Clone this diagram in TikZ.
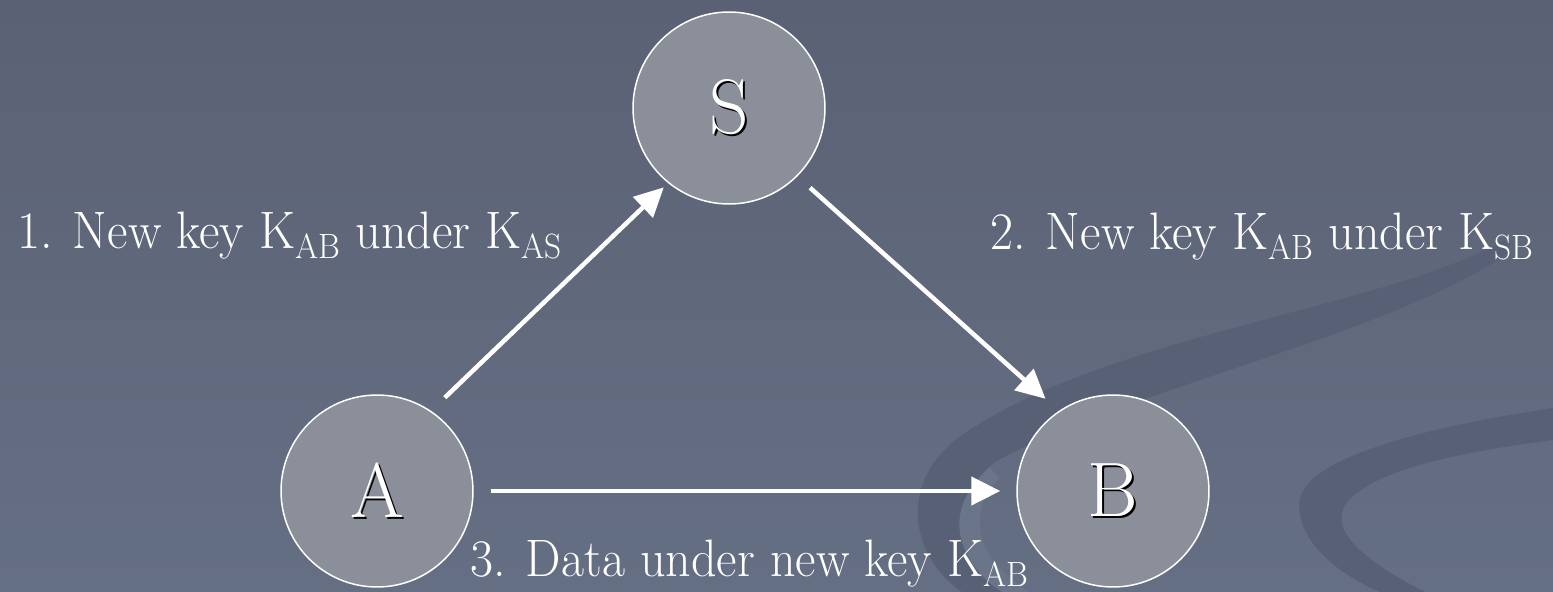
\documentclass[tikz,border=0pt]{standalone}
\usepackage{fontspec}
\usetikzlibrary{arrows.meta}

\newfontfamily\slidefont{lmroman17-regular.otf}[FakeStretch=0.95]

\definecolor{slidetop}{HTML}{5B6175}
\definecolor{slidebot}{HTML}{656F83}
\definecolor{swoosh}{HTML}{586075}
\definecolor{swooshlight}{HTML}{6B7589}
\definecolor{partyfill}{HTML}{8A8F99}

\newcommand{\embossed}[1]{\rlap{\kern0.045cm\raisebox{-0.045cm}{\color{black}#1}}#1}
\newcommand{\keysub}[1]{\raisebox{-0.2cm}{\fontsize{20}{24}\selectfont #1}}

\tikzset{
    party/.style={circle, draw=white, line width=0.03cm, fill=partyfill,
        minimum size=3.84cm, inner sep=0pt, text=white,
        font=\fontsize{44}{50}\selectfont},
    lbl/.style={anchor=base west, inner sep=0pt, text=white,
        font=\slidefont\fontsize{30}{36}\selectfont},
    msg/.style={draw=white, line width=0.09cm,
        -{Triangle[length=0.58cm, width=0.56cm]}}
}

\begin{document}
\begin{tikzpicture}[x=0.02cm, y=-0.02cm]
    % slide background
    \shade[top color=slidetop, bottom color=slidebot] (0,0) rectangle (1553,592);
    \useasboundingbox (0,0) rectangle (1553,592);

    % template swooshes
    \fill[swoosh] (1505,240) .. controls (1380,310) and (1100,335) .. (955,440)
        .. controls (895,490) and (915,560) .. (962,592) -- (1002,592)
        .. controls (950,560) and (945,500) .. (995,462)
        .. controls (1130,388) and (1390,335) .. (1510,252) -- cycle;
    \fill[swooshlight] (990,468) .. controls (945,505) and (950,555) .. (1002,592)
        -- (1030,592) .. controls (975,560) and (965,510) .. (1000,478) -- cycle;
    \fill[swoosh] (1553,408) .. controls (1420,428) and (1310,458) .. (1300,498)
        .. controls (1293,540) and (1340,575) .. (1380,592) -- (1425,592)
        .. controls (1362,560) and (1330,530) .. (1345,505)
        .. controls (1370,470) and (1460,452) .. (1553,440) -- cycle;

    % parties
    \node[party] (S) at (729,108) {\embossed{S}};
    \node[party] (A) at (377,491) {\embossed{A}};
    \node[party] (B) at (1113,491) {\embossed{B}};

    % messages
    \draw[msg, shorten <=0.38cm, shorten >=0.12cm] (A.56) -- (S.231);
    \draw[msg, shorten <=0.34cm, shorten >=0.36cm] (S.-45) -- (B.124);
    \draw[msg, shorten <=0.34cm, shorten >=0.32cm] (A.east) -- (B.west);

    \node[lbl] (m1) at (17,248) {1. New key K\keysub{AB} under K\keysub{AS}};
    \node[lbl] (m2) at (990,249) {2. New key K\keysub{AB} under K\keysub{SB}};
    \node[lbl] (m3) at (470,576) {3. Data under new key K\keysub{AB}};
\end{tikzpicture}
\end{document}
